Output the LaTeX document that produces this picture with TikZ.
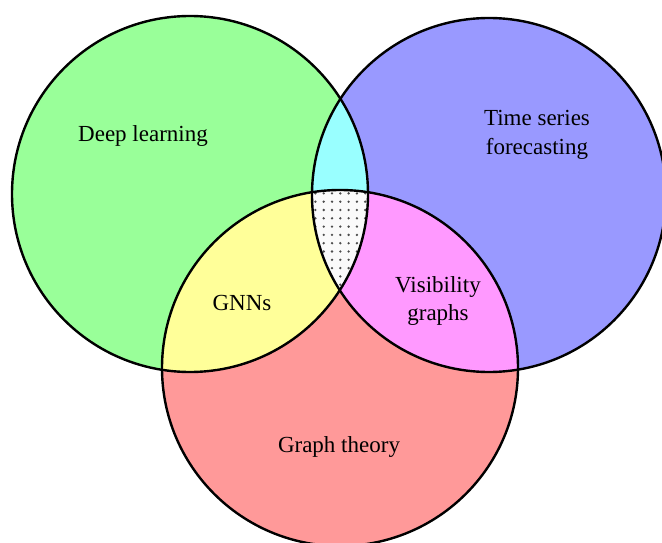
\documentclass[tikz,border=0pt]{standalone}
\usepackage{fontspec}
\setmainfont{Liberation Serif}
\usetikzlibrary{patterns.meta}
\definecolor{cgreen}{HTML}{99FF99}
\definecolor{cblue}{HTML}{9999FF}
\definecolor{cred}{HTML}{FF9999}
\definecolor{ccyan}{HTML}{99FFFF}
\definecolor{cyellow}{HTML}{FFFF99}
\definecolor{cmagenta}{HTML}{FF99FF}
\begin{document}
\begin{tikzpicture}[x=1pt,y=1pt,
  outline/.style={draw=black,line width=2.4pt},
  lbl/.style={font=\fontsize{23}{28.5}\selectfont,align=center,inner sep=0pt}]
\useasboundingbox (0,0) rectangle (662,542);
\begin{scope}
\clip (0,0) rectangle (662,542);
% centres
\coordinate (G) at (190,348);
\coordinate (B) at (489,347);
\coordinate (R) at (340,174);
\def\rG{178}\def\rB{177}\def\rR{178}
% single fills
\fill[cgreen] (G) circle (\rG);
\fill[cblue] (B) circle (\rB);
\fill[cred] (R) circle (\rR);
% pairwise
\begin{scope}\clip (G) circle (\rG); \fill[ccyan] (B) circle (\rB);\end{scope}
\begin{scope}\clip (G) circle (\rG); \fill[cyellow] (R) circle (\rR);\end{scope}
\begin{scope}\clip (B) circle (\rB); \fill[cmagenta] (R) circle (\rR);\end{scope}
% triple
\begin{scope}\clip (G) circle (\rG); \clip (B) circle (\rB);
  \fill[white!98!black] (R) circle (\rR);
  \fill[pattern={Dots[distance=8.3pt,radius=1.3pt]},pattern color=black!70] (R) circle (\rR);
\end{scope}
% outlines
\draw[outline] (G) circle (\rG);
\draw[outline] (B) circle (\rB);
\draw[outline] (R) circle (\rR);
\end{scope}
% labels
\node[lbl,anchor=base] (dl) at (143,400) {Deep learning};
\node[lbl] (ts) at (537,407) {Time series\\forecasting};
\node[lbl,anchor=base] (gnn) at (242,232) {GNNs};
\node[lbl] (vg) at (438,241) {Visibility\\graphs};
\node[lbl,anchor=base] (gt) at (339,90) {Graph theory};
\end{tikzpicture}
\end{document}
